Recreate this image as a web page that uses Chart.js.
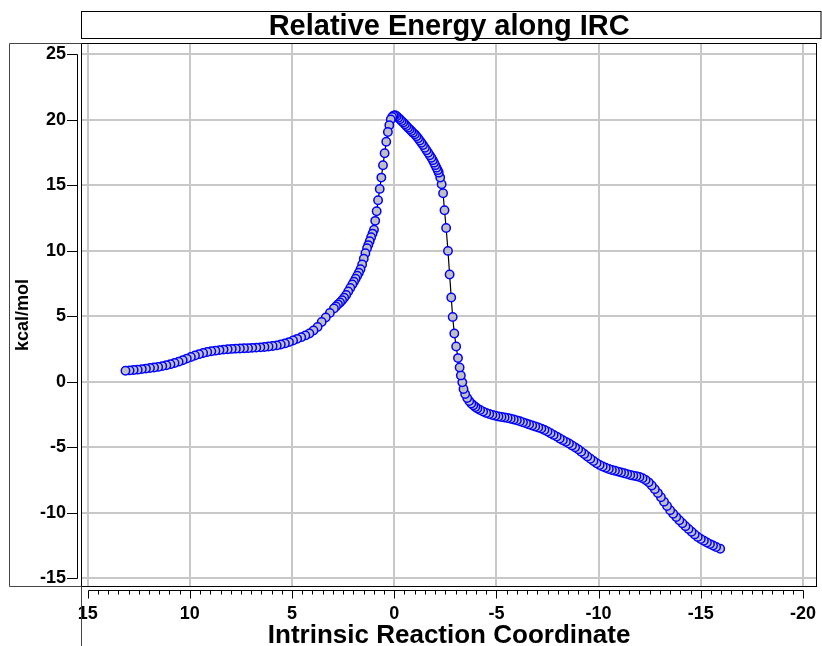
<!DOCTYPE html>
<html>
<head>
<meta charset="utf-8">
<script src="https://cdn.jsdelivr.net/npm/chart.js@4/dist/chart.umd.min.js"></script>
<style>
html,body{margin:0;padding:0;background:#fff;}
canvas{display:block;}
</style>
</head>
<body>
<canvas id="c" width="822" height="646"></canvas>
<script>
// ---- data ----
const ircCoordinate = [
-15.95,-15.75,-15.60,-15.45,-15.30,-15.15,-15.00,-14.85,-14.70,-14.55,
-14.40,-14.25,-14.10,-13.95,-13.80,-13.65,-13.50,-13.35,-13.20,-13.05,
-12.90,-12.75,-12.60,-12.45,-12.30,-12.15,-12.00,-11.85,-11.70,-11.55,
-11.40,-11.25,-11.10,-10.95,-10.80,-10.65,-10.50,-10.35,-10.20,-10.05,
-9.90,-9.75,-9.60,-9.45,-9.30,-9.15,-9.00,-8.85,-8.70,-8.55,
-8.40,-8.25,-8.10,-7.95,-7.80,-7.65,-7.50,-7.35,-7.20,-7.05,
-6.90,-6.75,-6.60,-6.45,-6.30,-6.15,-6.00,-5.85,-5.70,-5.55,
-5.40,-5.25,-5.10,-4.95,-4.80,-4.65,-4.50,-4.35,-4.20,-4.07,
-3.97,-3.87,-3.77,-3.67,-3.57,-3.47,-3.39,-3.33,-3.26,-3.20,
-3.12,-3.03,-2.94,-2.86,-2.79,-2.71,-2.63,-2.54,-2.46,-2.39,
-2.32,-2.25,-2.18,-2.13,-2.07,-2.01,-1.95,-1.89,-1.82,-1.74,
-1.66,-1.58,-1.50,-1.41,-1.33,-1.25,-1.17,-1.09,-1.01,-0.92,
-0.84,-0.76,-0.68,-0.60,-0.52,-0.44,-0.36,-0.28,-0.20,-0.12,
-0.04,0.03,0.10,0.17,0.24,0.31,0.39,0.47,0.55,0.63,
0.71,0.79,0.86,0.93,0.99,1.06,1.13,1.20,1.27,1.33,
1.41,1.49,1.57,1.65,1.73,1.81,1.89,1.97,2.05,2.15,
2.25,2.35,2.45,2.55,2.65,2.75,2.85,2.95,3.15,3.35,
3.55,3.75,3.95,4.15,4.35,4.55,4.75,4.95,5.15,5.35,
5.55,5.75,5.95,6.15,6.35,6.55,6.75,6.95,7.15,7.35,
7.55,7.75,7.95,8.15,8.35,8.55,8.75,8.95,9.15,9.35,
9.55,9.75,9.95,10.15,10.35,10.55,10.75,10.95,11.15,11.35,
11.55,11.75,11.95,12.15,12.35,12.55,12.75,12.95,13.15
];
const relativeEnergy = [
-12.75,-12.61,-12.50,-12.39,-12.27,-12.14,-12.00,-11.84,-11.65,-11.45,
-11.23,-11.02,-10.80,-10.57,-10.33,-10.08,-9.80,-9.48,-9.15,-8.82,
-8.50,-8.20,-7.92,-7.68,-7.50,-7.36,-7.27,-7.21,-7.17,-7.12,
-7.05,-6.98,-6.92,-6.86,-6.80,-6.74,-6.66,-6.57,-6.47,-6.36,
-6.22,-6.05,-5.88,-5.70,-5.52,-5.34,-5.16,-5.01,-4.86,-4.72,
-4.59,-4.46,-4.33,-4.19,-4.06,-3.93,-3.80,-3.68,-3.58,-3.50,
-3.42,-3.34,-3.26,-3.18,-3.10,-3.02,-2.95,-2.89,-2.83,-2.77,
-2.73,-2.69,-2.65,-2.60,-2.54,-2.46,-2.38,-2.28,-2.16,-2.05,
-1.93,-1.80,-1.66,-1.48,-1.24,-0.94,-0.56,-0.05,0.48,1.09,
1.80,2.69,3.68,4.93,6.42,8.18,9.98,11.73,13.08,14.38,
15.06,15.57,15.95,16.14,16.33,16.52,16.71,16.90,17.09,17.28,
17.47,17.66,17.85,18.05,18.23,18.40,18.57,18.72,18.87,19.00,
19.12,19.25,19.38,19.51,19.64,19.77,19.89,20.02,20.14,20.25,
20.33,20.30,20.20,20.00,19.56,19.05,18.31,17.43,16.51,15.57,
14.71,13.84,13.00,12.27,11.60,11.30,11.02,10.72,10.42,10.18,
9.80,9.38,8.95,8.58,8.32,8.08,7.85,7.62,7.42,7.15,
6.88,6.62,6.40,6.22,6.05,5.90,5.74,5.58,5.25,4.90,
4.55,4.18,3.90,3.68,3.53,3.40,3.27,3.14,3.02,2.92,
2.84,2.77,2.72,2.68,2.65,2.62,2.60,2.58,2.56,2.55,
2.53,2.52,2.50,2.48,2.45,2.41,2.37,2.32,2.26,2.19,
2.10,2.00,1.88,1.76,1.64,1.53,1.43,1.34,1.26,1.19,
1.13,1.08,1.04,1.00,0.96,0.92,0.89,0.86,0.84
];
const xTickValues = [-20, -15, -10, -5, 0, 5, 10, 15];
const yTickValues = [-15, -10, -5, 0, 5, 10, 15, 20, 25];
const chartTitle = 'Relative Energy along IRC';
const xAxisTitle = 'Intrinsic Reaction Coordinate';
const yAxisTitle = 'kcal/mol';

// ---- presentation ----
const FONT = "'Liberation Sans', Arial, Helvetica, sans-serif";
const GRID = 'rgb(200,200,200)';

const axisDecor = {
  id: 'axisDecor',
  afterDraw(chart) {
    const {ctx, chartArea: a, scales: {x, y}} = chart;
    const L = Math.round(a.left) - 0.5, R = Math.round(a.right) + 0.5;
    const T = Math.round(a.top) - 0.5, B = Math.round(a.bottom) + 0.5;
    ctx.save();
    ctx.lineWidth = 1;
    ctx.strokeStyle = '#000';
    // title box
    ctx.strokeRect(L, 11.5, chart.width - 1 - L, 27);
    // plot frame
    ctx.strokeRect(L, T, R - L, B - T);
    // y-axis panel
    ctx.strokeStyle = '#444';
    ctx.beginPath();
    ctx.moveTo(L, T); ctx.lineTo(9.5, T); ctx.lineTo(9.5, B); ctx.lineTo(L, B);
    // x-axis panel left edge
    ctx.moveTo(L, B); ctx.lineTo(L, chart.height);
    ctx.stroke();
    // y axis line + ticks
    ctx.strokeStyle = '#000';
    ctx.beginPath();
    const yAx = L - 4;
    const yTop = Math.round(y.getPixelForValue(yTickValues[yTickValues.length - 1])) + 0.5;
    const yBot = Math.round(y.getPixelForValue(yTickValues[0])) + 0.5;
    ctx.moveTo(yAx, yTop); ctx.lineTo(yAx, yBot);
    yTickValues.forEach(v => {
      const py = Math.round(y.getPixelForValue(v)) + 0.5;
      ctx.moveTo(yAx - 10.5, py); ctx.lineTo(yAx, py);
    });
    ctx.stroke();
    // x axis line + major/minor ticks
    ctx.beginPath();
    const xAy = B + 4;
    const xl = Math.round(x.getPixelForValue(xTickValues[xTickValues.length - 1])) + 0.5;
    const xr = Math.round(x.getPixelForValue(xTickValues[0])) + 0.5;
    ctx.moveTo(xl, xAy); ctx.lineTo(xr, xAy);
    for (let v = xTickValues[0]; v <= xTickValues[xTickValues.length - 1] + 1e-9; v += 0.5) {
      const px = Math.round(x.getPixelForValue(v)) + 0.5;
      const major = Math.abs(v % 5) < 1e-6;
      ctx.moveTo(px, xAy); ctx.lineTo(px, xAy + (major ? 8 : 4));
    }
    ctx.stroke();
    ctx.restore();
  }
};

new Chart(document.getElementById('c'), {
  type: 'scatter',
  data: {
    datasets: [{
      data: ircCoordinate.map((v, i) => ({x: v, y: relativeEnergy[i]})),
      showLine: true,
      borderColor: '#000',
      borderWidth: 1.2,
      pointRadius: 4.2,
      pointHoverRadius: 4.2,
      pointBorderWidth: 1.5,
      pointBackgroundColor: '#c0c0c0',
      pointBorderColor: '#0000ff'
    }]
  },
  options: {
    responsive: false,
    animation: false,
    devicePixelRatio: 1,
    events: [],
    layout: {padding: {left: 10, right: 2, top: 0, bottom: 0}},
    plugins: {
      legend: {display: false},
      tooltip: {enabled: false},
      title: {
        display: true,
        text: chartTitle,
        fullSize: false,
        color: '#000',
        font: {family: FONT, size: 29, weight: 'bold', lineHeight: 1},
        padding: {top: 12.9, bottom: 2.1}
      }
    },
    scales: {
      x: {
        type: 'linear',
        position: 'bottom',
        reverse: true,
        min: -20.652,
        max: 15.277,
        afterBuildTicks: s => { s.ticks = xTickValues.map(v => ({value: v})); },
        afterFit: s => { s.height = 60; s.paddingLeft = 0; s.paddingRight = 0; },
        grid: {color: GRID, lineWidth: 2, drawTicks: false},
        border: {display: false},
        ticks: {
          padding: 17, color: '#000', maxRotation: 0, autoSkip: false,
          font: {family: FONT, size: 18, weight: 'bold'},
          callback: v => String(v)
        },
        title: {
          display: true, text: xAxisTitle, color: '#000',
          font: {family: FONT, size: 26, weight: 'bold', lineHeight: 0.8},
          padding: {top: 0, bottom: 0}
        }
      },
      y: {
        type: 'linear',
        min: -15.587,
        max: 25.763,
        afterBuildTicks: s => { s.ticks = yTickValues.map(v => ({value: v})); },
        afterFit: s => { s.width = 72; s.paddingTop = 0; s.paddingBottom = 0; },
        grid: {color: GRID, lineWidth: 2, drawTicks: false},
        border: {display: false},
        ticks: {
          padding: 16, color: '#000',
          font: {family: FONT, size: 18, weight: 'bold'},
          callback: v => String(v)
        },
        title: {
          display: true, text: yAxisTitle, color: '#000',
          font: {family: FONT, size: 18, weight: 'bold', lineHeight: 1.2},
          padding: {top: 2, bottom: 0}
        }
      }
    }
  },
  plugins: [axisDecor]
});
</script>
</body>
</html>
